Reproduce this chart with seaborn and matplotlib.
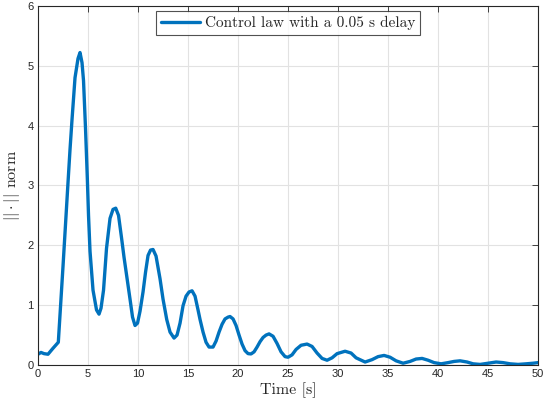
import seaborn as sns
import matplotlib.pyplot as plt

# time samples [s] and the norm
time_s = [0, 0.3, 0.6, 1.0, 1.5, 2.03, 2.5, 3.0, 3.2, 3.4, 3.7, 4.0, 4.2, 4.4, 4.55, 4.75,
          4.93, 5.05, 5.2, 5.5, 5.85, 6.1, 6.3, 6.55, 6.85, 7.2, 7.5, 7.77, 8.05, 8.37,
          8.6, 8.9, 9.2, 9.45, 9.7, 9.95, 10.2, 10.5, 10.75, 11.0, 11.25, 11.5, 11.8,
          12.2, 12.5, 12.87, 13.2, 13.6, 13.9, 14.2, 14.5, 14.8, 15.1, 15.4, 15.7,
          16.0, 16.2, 16.5, 16.8, 17.1, 17.5, 17.8, 18.1, 18.4, 18.7, 19.0, 19.2,
          19.5, 19.8, 20.1, 20.4, 20.7, 21.0, 21.3, 21.6, 21.9, 22.2, 22.5, 22.8,
          23.1, 23.5, 23.9, 24.3, 24.7, 25.0, 25.4, 25.8, 26.3, 26.9, 27.4, 27.9,
          28.4, 28.9, 29.4, 29.9, 30.7, 31.3, 31.8, 32.7, 33.4, 34.0, 34.6, 35.2,
          35.8, 36.5, 37.2, 37.8, 38.4, 39.0, 39.6, 40.3, 41.0, 41.6, 42.2, 42.9,
          43.5, 44.2, 45.0, 45.8, 46.5, 47.2, 48.0, 48.8, 49.5, 50.0]
norm = [0.18, 0.21, 0.19, 0.18, 0.28, 0.38, 1.65, 3.05, 3.6, 4.1, 4.8, 5.12, 5.22, 5.05, 4.75, 3.95,
        3.12, 2.5, 1.9, 1.25, 0.92, 0.85, 0.95, 1.25, 1.95, 2.45, 2.6, 2.62, 2.5, 2.1,
        1.8, 1.45, 1.1, 0.8, 0.66, 0.7, 0.9, 1.22, 1.55, 1.83, 1.92, 1.93, 1.82,
        1.44, 1.1, 0.76, 0.55, 0.45, 0.5, 0.7, 0.99, 1.15, 1.22, 1.24, 1.15,
        0.92, 0.76, 0.55, 0.38, 0.3, 0.3, 0.4, 0.55, 0.68, 0.77, 0.8, 0.81,
        0.77, 0.66, 0.5, 0.35, 0.24, 0.19, 0.185, 0.22, 0.3, 0.39, 0.46, 0.5,
        0.52, 0.48, 0.36, 0.22, 0.14, 0.13, 0.17, 0.26, 0.33, 0.35, 0.31, 0.2,
        0.11, 0.08, 0.12, 0.19, 0.23, 0.2, 0.12, 0.05, 0.09, 0.14, 0.16, 0.13,
        0.07, 0.03, 0.06, 0.1, 0.11, 0.08, 0.04, 0.02, 0.04, 0.06, 0.07, 0.05,
        0.02, 0.01, 0.03, 0.05, 0.04, 0.02, 0.01, 0.02, 0.03, 0.04]
x_ticks = [0, 5, 10, 15, 20, 25, 30, 35, 40, 45, 50]
y_ticks = [0, 1, 2, 3, 4, 5, 6]

sns.set_style('whitegrid')
plt.rcParams['font.family'] = ['Liberation Sans', 'DejaVu Sans']
plt.rcParams['mathtext.fontset'] = 'cm'

fig = plt.figure(figsize=(5.43, 4.04), dpi=100)
ax = fig.add_axes([0.07, 0.0965, 0.921, 0.889])

sns.lineplot(x=time_s, y=norm, ax=ax, color='#0072BD', linewidth=2.4,
             label='Control law with a 0.05 s delay')

ax.set_xlim(0, 50)
ax.set_ylim(0, 6)
ax.set_xticks(x_ticks)
ax.set_yticks(y_ticks)
ax.grid(True, color='#e2e2e2', linewidth=0.8)
for s in ax.spines.values():
    s.set_visible(True)
    s.set_color('#262626')
    s.set_linewidth(0.8)
ax.tick_params(direction='in', length=4, width=0.6, colors='#262626', labelsize=8,
               top=True, right=True, pad=3)

ax.set_xlabel('Time [s]', fontfamily='cmr10', fontsize=11.5, labelpad=2)
ax.set_ylabel(r'$||\cdot||$ norm', fontfamily='cmr10', fontsize=11.5, labelpad=4)

leg = ax.legend(loc='upper center', bbox_to_anchor=(0.5, 0.985), prop={'family': 'cmr10', 'size': 11},
                frameon=True, fancybox=False, edgecolor='#262626', handlelength=2.6,
                borderpad=0.3, handletextpad=0.3, borderaxespad=0)
leg.get_frame().set_linewidth(0.8)

fig.savefig('out.png', dpi=100)
